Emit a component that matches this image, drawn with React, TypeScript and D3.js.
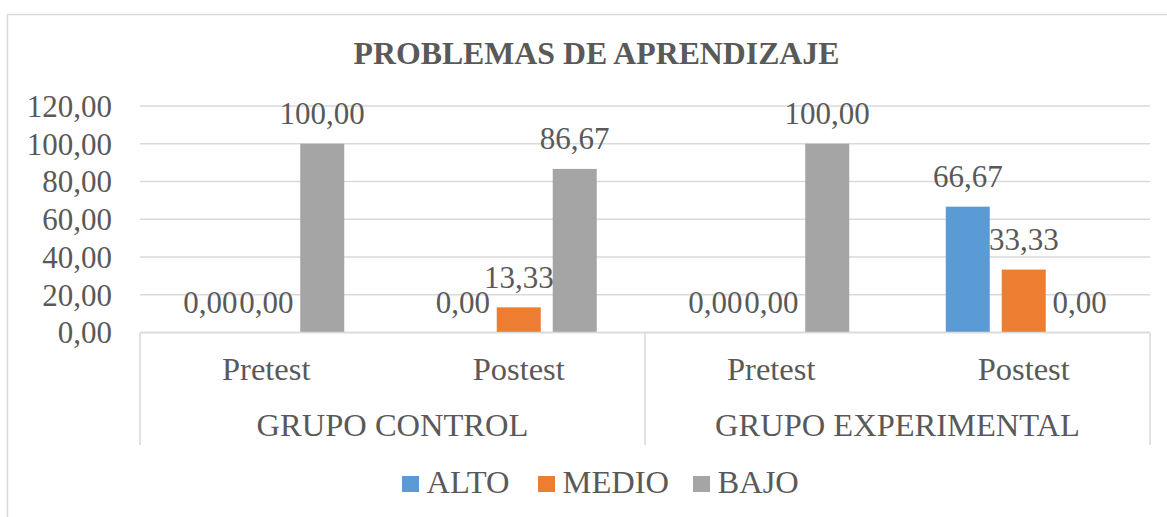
import React from 'react';
import * as d3 from 'd3';

const title = 'PROBLEMAS DE APRENDIZAJE';
const groups = ['GRUPO CONTROL', 'GRUPO EXPERIMENTAL'];
const phases = ['Pretest', 'Postest'];
const seriesNames = ['ALTO', 'MEDIO', 'BAJO'];
const alto = [0, 0, 0, 66.67];
const medio = [0, 13.33, 0, 33.33];
const bajo = [100, 86.67, 100, 0];
const yTicks = [0, 20, 40, 60, 80, 100, 120];

const colors = ['#5B9BD5', '#ED7D31', '#A5A5A5'];
const textColor = '#595959';
const lineColor = '#D9D9D9';
const font = "'Liberation Serif', 'Times New Roman', Times, serif";

const W = 1167;
const H = 517;
const plot = { left: 140, right: 1150, top: 106, bottom: 332.5 };

const fmt = (v: number) => v.toFixed(2).replace('.', ',');

// one key per bottom-level category
const catKeys = groups.flatMap((g) => phases.map((p) => `${g}|${p}`));
const seriesValues = [alto, medio, bajo];

const App = () => {
  const x0 = d3.scaleBand().domain(catKeys).range([plot.left, plot.right]);
  const x1 = d3
    .scaleBand()
    .domain(seriesNames)
    .range([0, x0.bandwidth()])
    .paddingInner(0.214)
    .paddingOuter(0.862);
  const y = d3.scaleLinear().domain([0, 120]).range([plot.bottom, plot.top]);

  const groupScale = d3.scaleBand().domain(groups).range([plot.left, plot.right]);

  const legendX = [402, 538, 693];
  const numSize = 31;
  const labelSize = 32.5;

  return (
    <svg
      width={W}
      height={H}
      style={{ position: 'absolute', left: 0, top: 0, background: '#fff', fontFamily: font }}
    >
      <rect x={7.5} y={14.5} width={1180} height={520} fill="#fff" stroke={lineColor} strokeWidth={1.5} />

      <text x={596.5} y={64} textAnchor="middle" fontSize={31.8} fontWeight="bold" fill={textColor}>
        {title}
      </text>

      {/* grid + y labels */}
      {yTicks.map((t) => (
        <g key={t}>
          <line x1={plot.left} x2={plot.right} y1={y(t)} y2={y(t)} stroke={lineColor} strokeWidth={1.3} />
          <text x={112} y={y(t)} dy="0.35em" textAnchor="end" fontSize={numSize} fill={textColor}>
            {fmt(t)}
          </text>
        </g>
      ))}

      {/* bars */}
      {catKeys.map((k, ci) => (
        <g key={k} transform={`translate(${x0(k)},0)`}>
          {seriesNames.map((s, si) => {
            const v = seriesValues[si][ci];
            return (
              <rect
                key={s}
                x={x1(s)}
                y={y(v)}
                width={x1.bandwidth()}
                height={plot.bottom - y(v)}
                fill={colors[si]}
              />
            );
          })}
        </g>
      ))}

      {/* data labels */}
      {catKeys.map((k, ci) => (
        <g key={k + 'lab'} transform={`translate(${x0(k)},0)`}>
          {seriesNames.map((s, si) => {
            const v = seriesValues[si][ci];
            return (
              <text
                key={s}
                x={(x1(s) as number) + x1.bandwidth() / 2}
                y={y(v) - 19.5}
                textAnchor="middle"
                fontSize={numSize}
                fill={textColor}
              >
                {fmt(v)}
              </text>
            );
          })}
        </g>
      ))}

      {/* category axis box */}
      <line x1={plot.left} x2={plot.right} y1={plot.bottom} y2={plot.bottom} stroke={lineColor} strokeWidth={1.5} />
      {[plot.left, groupScale(groups[1]) as number, plot.right].map((xv, i) => (
        <line key={i} x1={xv} x2={xv} y1={plot.bottom} y2={445} stroke={lineColor} strokeWidth={1.5} />
      ))}
      {catKeys.map((k) => (
        <text
          key={k + 'cat'}
          x={(x0(k) as number) + x0.bandwidth() / 2}
          y={380}
          textAnchor="middle"
          fontSize={labelSize}
          fill={textColor}
        >
          {k.split('|')[1]}
        </text>
      ))}
      {groups.map((g) => (
        <text
          key={g}
          x={(groupScale(g) as number) + groupScale.bandwidth() / 2}
          y={436}
          textAnchor="middle"
          fontSize={labelSize}
          fill={textColor}
        >
          {g}
        </text>
      ))}

      {/* legend */}
      {seriesNames.map((s, i) => (
        <g key={s + 'leg'}>
          <rect x={legendX[i]} y={476} width={17} height={16} fill={colors[i]} />
          <text x={legendX[i] + 24.5} y={493} fontSize={labelSize} fill={textColor}>
            {s}
          </text>
        </g>
      ))}
    </svg>
  );
};

export default App;
